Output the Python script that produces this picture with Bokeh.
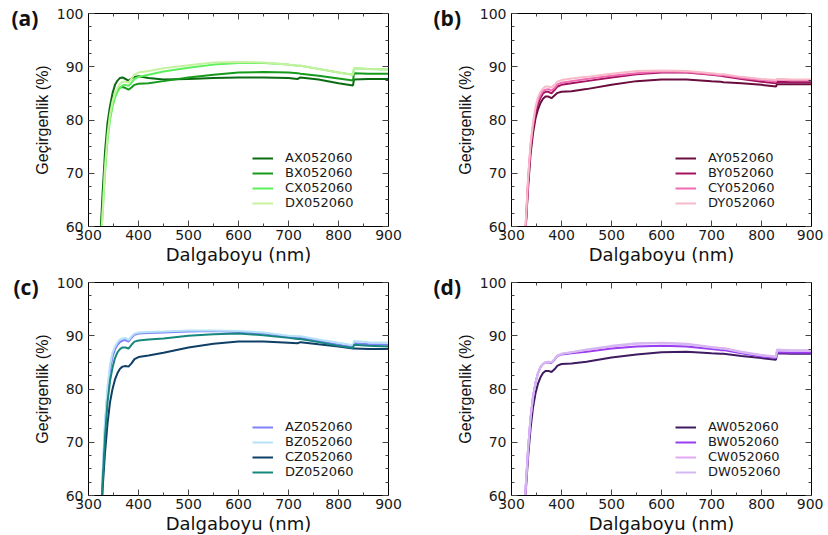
from bokeh.plotting import figure
from bokeh.layouts import column, row
from bokeh.models import Range1d, LinearAxis, SingleIntervalTicker, Legend, LegendItem, Label, ColumnDataSource
from bokeh.embed import file_html
from bokeh.resources import INLINE

# ---------------- data ----------------
wavelength = [322, 328, 333, 338, 343, 348, 353, 358, 363, 368, 374, 380, 386, 392, 400,
              420, 450, 500, 550, 600, 650, 700, 718, 724, 760, 800, 829, 831, 860, 900]

# panel (a)
AX = [55, 66, 74, 79.5, 82.6, 85, 86.6, 87.4, 87.9, 88.0, 87.7, 87.4, 87.8, 88.1, 88.2,
      87.9, 87.6, 87.7, 87.9, 88.0, 88.0, 87.9, 87.7, 88.0, 87.6, 86.9, 86.5, 87.6, 87.7, 87.7]
BX = [54, 64, 72, 77.5, 81, 83.3, 84.8, 85.7, 86.1, 86.2, 86.0, 85.7, 86.1, 86.6, 86.8,
      86.9, 87.3, 88.0, 88.5, 88.9, 89.0, 88.9, 88.8, 88.7, 88.3, 87.8, 87.4, 88.8, 88.7, 88.7]
CX = [53, 62, 70, 76, 80, 82.5, 84.2, 85.3, 86.0, 86.5, 86.6, 86.4, 87.0, 87.7, 88.1,
      88.5, 89.1, 89.8, 90.4, 90.7, 90.7, 90.4, 90.2, 90.2, 89.6, 88.9, 88.5, 89.7, 89.6, 89.5]
DX = [53, 62, 71, 77, 81, 83.5, 85, 86, 86.8, 87.2, 87.2, 87.0, 87.8, 88.5, 88.9,
      89.2, 89.7, 90.3, 90.8, 90.9, 90.8, 90.4, 90.2, 90.2, 89.6, 88.9, 88.5, 89.7, 89.6, 89.5]

# panel (b)
AY = [45, 59, 67, 73.5, 77.5, 80.3, 82, 83.2, 84.0, 84.4, 84.4, 84.1, 84.6, 85.1, 85.3,
      85.4, 85.8, 86.6, 87.3, 87.6, 87.6, 87.3, 87.2, 87.1, 86.9, 86.6, 86.3, 86.7, 86.7, 86.7]
BY = [45, 59, 68, 74.5, 78.5, 81.3, 83, 84.2, 85.0, 85.3, 85.3, 85.0, 85.6, 86.3, 86.6,
      86.9, 87.3, 88.0, 88.6, 88.9, 88.9, 88.5, 88.3, 88.2, 87.7, 87.2, 86.9, 87.2, 87.1, 87.1]
CY = [45, 59.5, 68.5, 75, 79, 82, 83.7, 84.7, 85.4, 85.7, 85.8, 85.5, 86.0, 86.7, 87.0,
      87.3, 87.7, 88.3, 88.8, 89.1, 89.0, 88.6, 88.4, 88.4, 87.9, 87.5, 87.2, 87.6, 87.5, 87.5]
DY = [45, 60, 69, 75.5, 79.5, 82.5, 84.3, 85.3, 85.9, 86.3, 86.3, 86.1, 86.6, 87.2, 87.5,
      87.8, 88.1, 88.7, 89.2, 89.3, 89.2, 88.8, 88.6, 88.6, 88.1, 87.7, 87.5, 87.7, 87.6, 87.6]

# panel (c)
AZ = [45, 63, 73, 79.5, 83.5, 86, 87.4, 88.3, 88.8, 89.1, 89.2, 88.9, 89.6, 90.2, 90.4,
      90.5, 90.6, 90.8, 90.9, 90.7, 90.4, 89.8, 89.6, 89.6, 89.0, 88.3, 87.9, 88.6, 88.4, 88.3]
BZ = [45, 64, 74, 80.5, 84.5, 86.8, 88.0, 88.8, 89.3, 89.5, 89.6, 89.2, 89.9, 90.4, 90.6,
      90.7, 90.8, 91.0, 91.0, 90.9, 90.6, 90.0, 89.9, 89.9, 89.3, 88.7, 88.2, 89.0, 88.8, 88.7]
CZ = [45, 61, 68, 73.5, 77.5, 80, 81.8, 83, 83.8, 84.2, 84.3, 84.2, 84.8, 85.6, 86.0,
      86.3, 86.8, 87.8, 88.5, 88.9, 88.9, 88.7, 88.6, 88.8, 88.4, 88.0, 87.6, 87.6, 87.5, 87.5]
DZ = [45, 62, 71, 77.5, 81.5, 84, 85.8, 86.9, 87.5, 87.8, 87.8, 87.6, 88.3, 88.9, 89.1,
      89.3, 89.5, 90.0, 90.3, 90.4, 90.1, 89.6, 89.4, 89.4, 88.8, 88.1, 87.7, 88.3, 88.1, 88.0]

# panel (d)
AW = [45, 60, 67, 72.5, 76.5, 79.2, 81, 82.2, 83.0, 83.4, 83.4, 83.2, 83.7, 84.4, 84.7,
      84.8, 85.1, 85.9, 86.5, 86.9, 87.0, 86.7, 86.6, 86.6, 86.2, 85.8, 85.5, 86.7, 86.6, 86.6]
BW = [45, 61, 68.5, 74.5, 78.5, 81.2, 83, 84.1, 84.7, 85.0, 85.0, 84.9, 85.5, 86.2, 86.5,
      86.7, 87.0, 87.6, 88.0, 88.1, 88.0, 87.5, 87.3, 87.3, 86.7, 86.1, 85.8, 86.9, 86.8, 86.8]
CW = [45, 61, 68.5, 74.5, 78.5, 81.2, 83, 84.1, 84.7, 85.0, 85.1, 85.0, 85.6, 86.3, 86.6,
      86.9, 87.3, 88.0, 88.5, 88.7, 88.5, 87.9, 87.7, 87.7, 87.0, 86.4, 86.1, 87.3, 87.2, 87.2]
DW = [45, 61, 68.5, 74.5, 78.5, 81.2, 83, 84.1, 84.7, 85.0, 85.1, 85.0, 85.6, 86.3, 86.6,
      86.9, 87.4, 88.1, 88.6, 88.6, 88.4, 87.8, 87.6, 87.6, 86.9, 86.3, 86.0, 87.4, 87.3, 87.3]

panels = [
    ("(a)", [("AX052060", AX, "#0b6b12"), ("BX052060", BX, "#169a1b"),
             ("CX052060", CX, "#5cf05c"), ("DX052060", DX, "#c6f2a0")]),
    ("(b)", [("AY052060", AY, "#6a0d3e"), ("BY052060", BY, "#a3125f"),
             ("CY052060", CY, "#f06ab2"), ("DY052060", DY, "#f8b9c8")]),
    ("(c)", [("AZ052060", AZ, "#8080fa"), ("BZ052060", BZ, "#b6e2f8"),
             ("CZ052060", CZ, "#0f3e66"), ("DZ052060", DZ, "#16867e")]),
    ("(d)", [("AW052060", AW, "#3f1b62"), ("BW052060", BW, "#9a3cf0"),
             ("CW052060", CW, "#e4a8f5"), ("DW052060", DW, "#d4b8f2")]),
]

x_label = "Dalgaboyu (nm)"
y_label = "Geçirgenlik (%)"

FW, FH = 300, 213
borders = [
    dict(min_border_left=88, min_border_right=26, min_border_top=13, min_border_bottom=46),
    dict(min_border_left=97, min_border_right=12, min_border_top=13, min_border_bottom=46),
    dict(min_border_left=88, min_border_right=26, min_border_top=10, min_border_bottom=39),
    dict(min_border_left=97, min_border_right=12, min_border_top=10, min_border_bottom=39),
]
tag_x = [8, 8, 8, 8]
tag_above = [10, 10, 10, 10]

TICK_FONT = "DejaVu Sans"


def style_axis(ax, show_labels):
    ax.major_tick_in = 6
    ax.major_tick_out = 0
    ax.minor_tick_in = 3
    ax.minor_tick_out = 0
    ax.major_tick_line_color = "#444444"
    ax.minor_tick_line_color = "#444444"
    ax.axis_line_color = "#000000"
    if show_labels:
        ax.major_label_text_font = TICK_FONT
        ax.major_label_text_font_size = "14px"
        ax.major_label_text_color = "#1a1a1a"
    else:
        ax.major_label_text_font_size = "0px"
        ax.major_label_standoff = 0


figs = []
for i, (tag, series) in enumerate(panels):
    p = figure(frame_width=FW, frame_height=FH, output_backend="svg", toolbar_location=None,
               x_range=Range1d(300, 900), y_range=Range1d(60, 100), **borders[i])
    p.xgrid.visible = False
    p.ygrid.visible = False
    p.outline_line_color = "#000000"
    p.outline_line_width = 1
    p.background_fill_color = "white"
    p.border_fill_color = "white"

    p.xaxis.ticker = SingleIntervalTicker(interval=100, num_minor_ticks=2)
    p.yaxis.ticker = SingleIntervalTicker(interval=10, num_minor_ticks=4)
    style_axis(p.xaxis[0], True)
    style_axis(p.yaxis[0], True)
    p.xaxis.major_label_standoff = 3
    p.yaxis.major_label_standoff = 5
    p.xaxis.axis_label = x_label
    p.xaxis.axis_label_text_font = "DejaVu Sans"
    p.xaxis.axis_label_text_font_size = "18px"
    p.xaxis.axis_label_text_font_style = "normal"
    p.xaxis.axis_label_text_color = "#111111"
    p.xaxis.axis_label_standoff = 1
    p.yaxis.axis_label = y_label
    p.yaxis.axis_label_text_font = "Liberation Sans"
    p.yaxis.axis_label_text_font_size = "16px"
    p.yaxis.axis_label_text_font_style = "normal"
    p.yaxis.axis_label_text_color = "#111111"
    p.yaxis.axis_label_standoff = 3

    top = LinearAxis(ticker=SingleIntervalTicker(interval=100, num_minor_ticks=2))
    style_axis(top, False)
    right = LinearAxis(ticker=SingleIntervalTicker(interval=10, num_minor_ticks=4))
    style_axis(right, False)
    p.add_layout(top, "above")
    p.add_layout(right, "right")

    items = []
    for name, vals, color in series:
        src = ColumnDataSource(dict(x=wavelength, y=vals))
        r = p.line("x", "y", source=src, line_color=color, line_width=2)
        items.append(LegendItem(label=name, renderers=[r]))

    legend = Legend(items=items, location=(164, 16), orientation="vertical",
                    label_text_font="DejaVu Sans", label_text_font_size="13px",
                    label_text_color="#1a1a1a",
                    glyph_width=21, glyph_height=12, label_height=12, spacing=0,
                    label_standoff=12, padding=0, margin=0,
                    border_line_color=None, background_fill_alpha=0)
    p.add_layout(legend, "center")

    tag_label = Label(x=tag_x[i], y=FH + tag_above[i], x_units="screen", y_units="screen",
                      text=tag, text_baseline="top", text_align="left",
                      text_font="Open Sans", text_font_style="bold",
                      text_font_size="21px", text_color="#111111")
    p.add_layout(tag_label, "left")
    figs.append(p)

layout = column(row(figs[0], figs[1]), row(figs[2], figs[3]))

open("out.html", "w").write(file_html(layout, INLINE))
